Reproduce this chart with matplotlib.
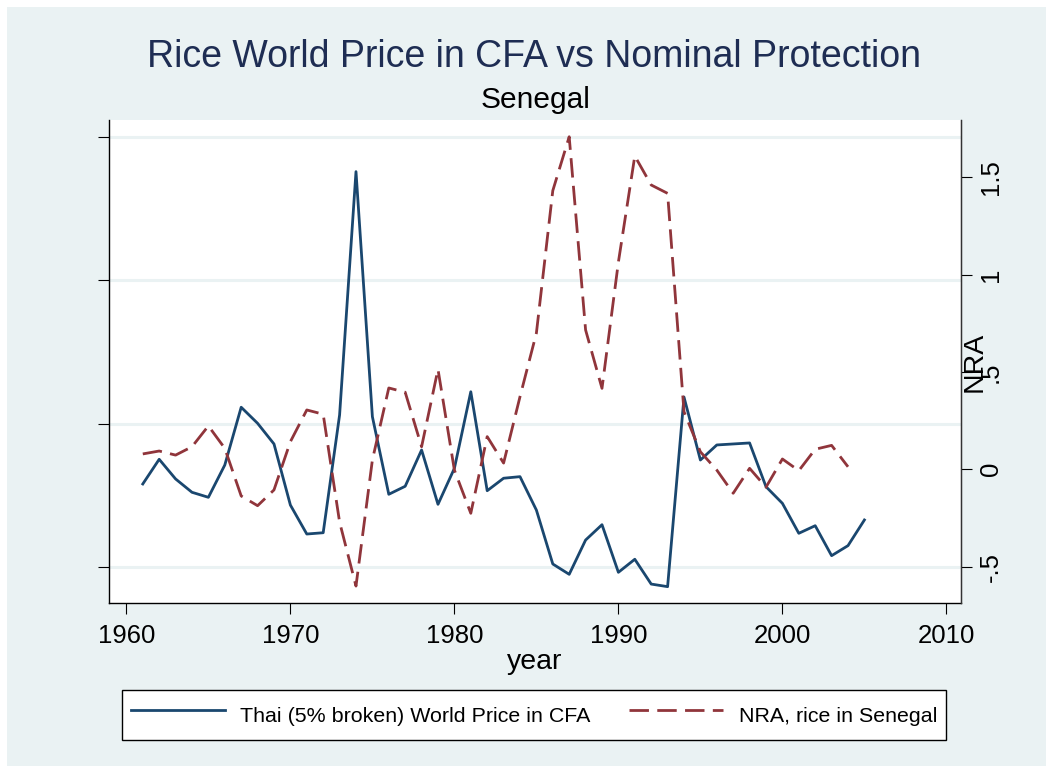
import matplotlib
matplotlib.use("Agg")
import matplotlib.pyplot as plt
from matplotlib.lines import Line2D
from matplotlib.patches import Rectangle

plt.rcParams['font.family'] = ['Liberation Sans', 'DejaVu Sans']

# ---- data ----
years_price = list(range(1961, 2006))
world_price = [0.579, 0.751, 0.614, 0.521, 0.486, 0.711, 1.114, 1.002, 0.858, 0.432,
               0.230, 0.239, 1.060, 2.757, 1.048, 0.507, 0.563, 0.816, 0.437, 0.688,
               1.222, 0.532, 0.619, 0.630, 0.397, 0.021, -0.051, 0.188, 0.295, -0.037,
               0.054, -0.119, -0.137, 1.185, 0.746, 0.851, 0.858, 0.865, 0.560, 0.444,
               0.235, 0.288, 0.079, 0.149, 0.328]

years_nra = list(range(1961, 2005))
nra = [0.079, 0.094, 0.073, 0.116, 0.223, 0.108, -0.137, -0.187, -0.106, 0.142,
       0.305, 0.283, -0.271, -0.600, 0.048, 0.418, 0.396, 0.116, 0.514, -0.004,
       -0.226, 0.168, 0.032, 0.373, 0.700, 1.432, 1.709, 0.716, 0.416, 1.065,
       1.610, 1.461, 1.418, 0.296, 0.090, -0.004, -0.123, 0.005, -0.092, 0.053,
       -0.007, 0.103, 0.123, 0.013]

x_ticks = [1960, 1970, 1980, 1990, 2000, 2010]
x_ticklabels = ["1960", "1970", "1980", "1990", "2000", "2010"]
left_ticks = [0, 1, 2, 3]
left_ticklabels = ["", "", "", ""]
right_ticks = [-0.5, 0, 0.5, 1, 1.5]
right_ticklabels = ["-.5", "0", ".5", "1", "1.5"]

title = "Rice World Price in CFA vs Nominal Protection"
subtitle = "Senegal"
xlabel = "year"
ylabel_right = "NRA"
label_price = "Thai (5% broken) World Price in CFA"
label_nra = "NRA, rice in Senegal"

# ---- styles ----
W, H = 1053, 773
BG = "#EAF2F3"
BLUE = "#1A476F"
RED = "#90353B"
GRID = "#EAF2F3"
TICKFS = 18.5

fig = plt.figure(figsize=(W / 100, H / 100), dpi=100)
fig.patch.set_facecolor("white")
bgrect = Rectangle((7 / W, 7 / H), 1 - 14 / W, 1 - 14 / H,
                   transform=fig.transFigure, facecolor=BG, edgecolor="none", zorder=-10)
fig.patches.append(bgrect)

ax = fig.add_axes([109 / W, 1 - 603 / H, (961 - 109) / W, (603 - 120) / H])
ax.set_facecolor("white")
ax2 = ax.twinx()

ax.plot(years_price, world_price, color=BLUE, lw=2.0, zorder=3)
ax2.plot(years_nra, nra, color=RED, lw=2.0, dashes=(7.0, 3.0), zorder=3)

ax.set_xlim(1958.94, 2010.89)
ax.set_ylim(-0.251, 3.117)
ax2.set_ylim(-0.687, 1.795)

ax.set_xticks(x_ticks)
ax.set_xticklabels(x_ticklabels, fontsize=TICKFS)
ax.set_yticks(left_ticks)
ax.set_yticklabels(left_ticklabels)
ax.yaxis.grid(True, color=GRID, lw=2.2, zorder=0)
ax.set_axisbelow(True)

ax2.set_yticks(right_ticks)
ax2.set_yticklabels(right_ticklabels, fontsize=TICKFS, rotation=90, va='center')

for a in (ax, ax2):
    a.spines['top'].set_visible(False)
ax.spines['left'].set_color('black')
ax.spines['bottom'].set_color('black')
ax2.spines['right'].set_color('#333333')
for s in ('left', 'bottom'):
    ax.spines[s].set_linewidth(1.0)
ax2.spines['right'].set_linewidth(1.0)
ax2.spines['left'].set_visible(False)
ax2.spines['bottom'].set_visible(False)

ax.tick_params(axis='x', length=8, width=0.8, pad=7, colors='black')
ax.tick_params(axis='y', length=8, width=0.8, colors='black')
ax2.tick_params(axis='y', length=8, width=0.8, pad=5, colors='black')

fig.text(534 / W, 1 - 57 / H, title, ha='center', va='center', fontsize=27, color="#1E2D53")
fig.text(536 / W, 1 - 100 / H, subtitle, ha='center', va='center', fontsize=21.5, color="black")
fig.text(535 / W, 1 - 662 / H, xlabel, ha='center', va='center', fontsize=20.5, color="black")
fig.text(975 / W, 1 - 362 / H, ylabel_right, ha='center', va='center', fontsize=20.5,
         rotation=90, color="black")

handles = [Line2D([], [], color=BLUE, lw=2.0),
           Line2D([], [], color=RED, lw=2.0, dashes=(7.0, 3.0))]
leg = fig.legend(handles, [label_price, label_nra], loc='center',
                 bbox_to_anchor=(534 / W, 1 - 715 / H), ncol=2, fontsize=15.4,
                 frameon=True, fancybox=False, edgecolor='black', facecolor='white',
                 framealpha=1.0, handlelength=4.4, handleheight=1.95,
                 handletextpad=0.73, columnspacing=1.8,
                 borderpad=0.4, borderaxespad=0)
leg.get_frame().set_linewidth(1.0)

fig.savefig("out.png", dpi=100, facecolor=fig.get_facecolor())
